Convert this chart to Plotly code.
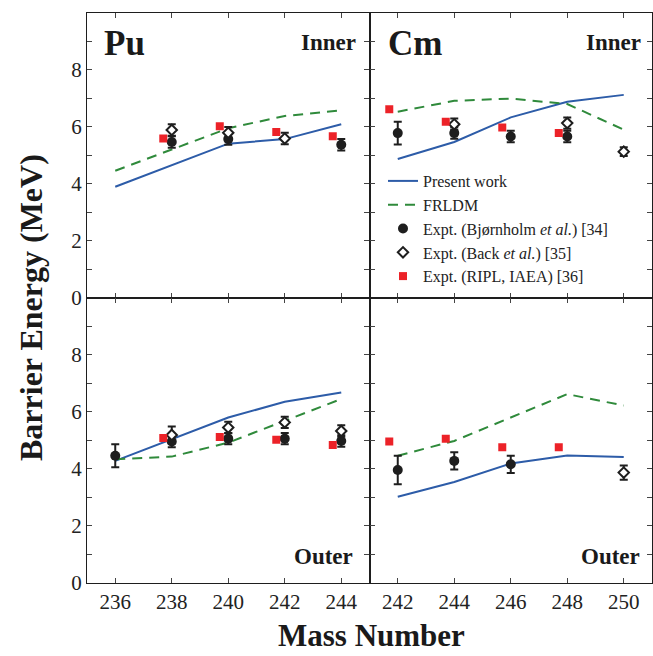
import plotly.graph_objects as go
from plotly.subplots import make_subplots

# ---------------- data ----------------
pu_A = [236, 238, 240, 242, 244]
cm_A = [242, 244, 246, 248, 250]

pu_inner_present = [3.90, 4.66, 5.41, 5.57, 6.09]
pu_inner_frldm = [4.46, 5.20, 5.95, 6.38, 6.58]
pu_outer_present = [4.28, 5.04, 5.80, 6.35, 6.68]
pu_outer_frldm = [4.34, 4.43, 4.92, 5.68, 6.45]

cm_inner_present = [4.87, 5.47, 6.33, 6.88, 7.12]
cm_inner_frldm = [6.53, 6.91, 6.99, 6.80, 5.90]
cm_outer_present = [3.02, 3.54, 4.19, 4.47, 4.42]
cm_outer_frldm = [4.46, 4.98, 5.80, 6.62, 6.22]

# Bjornholm et al. [34]
bj_pu_inner_A = [238, 240, 244]
bj_pu_inner_E = [5.47, 5.57, 5.37]
bj_pu_inner_err = [0.2, 0.2, 0.2]
bj_pu_outer_A = [236, 238, 240, 242, 244]
bj_pu_outer_E = [4.46, 4.96, 5.06, 5.06, 4.98]
bj_pu_outer_err = [0.4, 0.2, 0.2, 0.2, 0.2]
bj_cm_inner_A = [242, 244, 246, 248]
bj_cm_inner_E = [5.78, 5.78, 5.66, 5.66]
bj_cm_inner_err = [0.4, 0.2, 0.2, 0.2]
bj_cm_outer_A = [242, 244, 246]
bj_cm_outer_E = [3.96, 4.28, 4.16]
bj_cm_outer_err = [0.5, 0.3, 0.3]

# Back et al. [35]
bk_pu_inner_A = [238, 240, 242]
bk_pu_inner_E = [5.89, 5.79, 5.59]
bk_pu_inner_err = [0.2, 0.2, 0.2]
bk_pu_outer_A = [238, 240, 242, 244]
bk_pu_outer_E = [5.19, 5.45, 5.63, 5.33]
bk_pu_outer_err = [0.3, 0.2, 0.2, 0.2]
bk_cm_inner_A = [244, 248, 250]
bk_cm_inner_E = [6.09, 6.13, 5.13]
bk_cm_inner_err = [0.2, 0.2, 0.15]
bk_cm_outer_A = [250]
bk_cm_outer_E = [3.87]
bk_cm_outer_err = [0.25]

# RIPL, IAEA [36]
ripl_pu_A = [238, 240, 242, 244]
ripl_pu_inner_E = [5.59, 6.02, 5.82, 5.67]
ripl_pu_outer_E = [5.08, 5.12, 5.02, 4.84]
ripl_cm_A = [242, 244, 246, 248]
ripl_cm_inner_E = [6.62, 6.18, 5.98, 5.78]
ripl_cm_outer_E = [4.96, 5.06, 4.76, 4.76]

RIPL_SHIFT = -0.3  # drawn slightly left of the isotope for visibility

# ---------------- styles ----------------
FONT = "Liberation Serif"
BLUE = "#2d5ca8"
GREEN = "#2f8a3b"
RED = "#ec2228"
INK = "#1e1e1e"

fig = make_subplots(rows=2, cols=2, horizontal_spacing=0, vertical_spacing=0)

panels = [
    (1, 1, pu_A, pu_inner_present, pu_inner_frldm,
     (bj_pu_inner_A, bj_pu_inner_E, bj_pu_inner_err),
     (bk_pu_inner_A, bk_pu_inner_E, bk_pu_inner_err),
     (ripl_pu_A, ripl_pu_inner_E), False),
    (1, 2, cm_A, cm_inner_present, cm_inner_frldm,
     (bj_cm_inner_A, bj_cm_inner_E, bj_cm_inner_err),
     (bk_cm_inner_A, bk_cm_inner_E, bk_cm_inner_err),
     (ripl_cm_A, ripl_cm_inner_E), True),
    (2, 1, pu_A, pu_outer_present, pu_outer_frldm,
     (bj_pu_outer_A, bj_pu_outer_E, bj_pu_outer_err),
     (bk_pu_outer_A, bk_pu_outer_E, bk_pu_outer_err),
     (ripl_pu_A, ripl_pu_outer_E), False),
    (2, 2, cm_A, cm_outer_present, cm_outer_frldm,
     (bj_cm_outer_A, bj_cm_outer_E, bj_cm_outer_err),
     (bk_cm_outer_A, bk_cm_outer_E, bk_cm_outer_err),
     (ripl_cm_A, ripl_cm_outer_E), False),
]

for r, c, A, pres, frl, bj, bk, ripl, leg in panels:
    fig.add_trace(go.Scatter(x=A, y=pres, mode="lines", name="Present work",
                             line=dict(color=BLUE, width=2), showlegend=leg,
                             legendrank=1), row=r, col=c)
    fig.add_trace(go.Scatter(x=A, y=frl, mode="lines", name="FRLDM",
                             line=dict(color=GREEN, width=2, dash="10px,7px"),
                             showlegend=leg, legendrank=2), row=r, col=c)
    fig.add_trace(go.Scatter(x=bj[0], y=bj[1], mode="markers",
                             name="Expt. (Bjørnholm <i>et al.</i>) [34]",
                             marker=dict(symbol="circle", size=10, color=INK),
                             error_y=dict(type="data", array=bj[2], color=INK,
                                          thickness=2, width=4),
                             showlegend=leg, legendrank=3), row=r, col=c)
    fig.add_trace(go.Scatter(x=bk[0], y=bk[1], mode="markers",
                             name="Expt. (Back <i>et al.</i>) [35]",
                             marker=dict(symbol="diamond", size=8, color="white",
                                         line=dict(color=INK, width=2)),
                             error_y=dict(type="data", array=bk[2], color=INK,
                                          thickness=2, width=4),
                             showlegend=leg, legendrank=4), row=r, col=c)
    fig.add_trace(go.Scatter(x=[a + RIPL_SHIFT for a in ripl[0]], y=ripl[1],
                             mode="markers", name="Expt. (RIPL, IAEA) [36]",
                             marker=dict(symbol="square", size=8, color=RED),
                             showlegend=leg, legendrank=5), row=r, col=c)

axis_common = dict(showline=True, linecolor=INK, linewidth=1.2, mirror="ticks",
                   ticks="inside", ticklen=5, tickwidth=1, tickcolor="#444",
                   showgrid=False, zeroline=False,
                   tickfont=dict(family=FONT, size=21, color="#222"))

for r in (1, 2):
    for c in (1, 2):
        if c == 1:
            xr, t0 = [235, 245], 236
        else:
            xr, t0 = [241, 251], 242
        fig.update_xaxes(range=xr, tickmode="linear", tick0=t0, dtick=2,
                         showticklabels=(r == 2), row=r, col=c, **axis_common)
        fig.update_yaxes(range=[0, 9.99], tickmode="linear", tick0=0, dtick=2,
                         showticklabels=(c == 1), row=r, col=c,
                         minor=dict(dtick=1, tick0=0, ticks="inside", ticklen=5,
                                    tickcolor="#444"),
                         **axis_common)

L, R, T, B = 87, 1, 13, 73
W, H = 653, 656
PW, PH = W - L - R, H - T - B


def px(x):
    return (x - L) / PW


def py(y):
    return (H - B - y) / PH


ann = []


def label(text, x, y, size, xanchor, bold=True, angle=0):
    ann.append(dict(text=f"<b>{text}</b>" if bold else text, x=px(x), y=py(y),
                    xref="paper", yref="paper", showarrow=False,
                    xanchor=xanchor, yanchor="middle", textangle=angle,
                    font=dict(family=FONT, size=size, color="#1a1a1a")))


label("Pu", 102, 44, 35, "left")
label("Cm", 386, 44, 35, "left")
label("Inner", 358, 42, 23, "right")
label("Inner", 643, 42, 23, "right")
label("Outer", 355, 556, 23, "right")
label("Outer", 642, 556, 23, "right")
label("Barrier Energy (MeV)", 31, 308, 32, "center", angle=-90)
label("Mass Number", 371, 635, 31, "center")

fig.update_layout(
    width=W, height=H,
    margin=dict(l=L, r=R, t=T, b=B),
    paper_bgcolor="white", plot_bgcolor="white",
    font=dict(family=FONT, color="#222"),
    annotations=ann,
    legend=dict(x=px(383), y=py(164), xanchor="left", yanchor="top",
                bgcolor="rgba(0,0,0,0)", font=dict(family=FONT, size=16, color="#222"),
                tracegroupgap=0, itemwidth=30),
)

fig.write_html(
    "out.html",
    config={"displayModeBar": False},
    post_script="document.body.style.margin='0';document.body.style.overflow='hidden';",
)
